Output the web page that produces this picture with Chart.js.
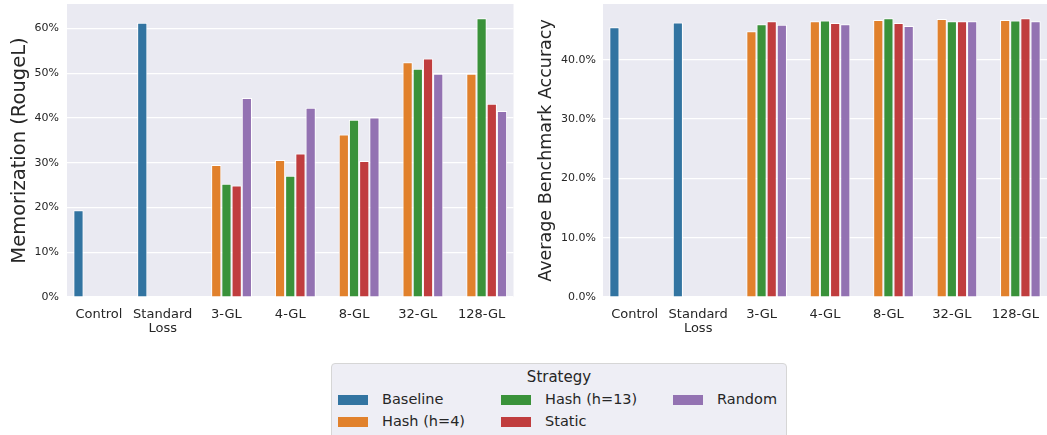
<!DOCTYPE html>
<html>
<head>
<meta charset="utf-8">
<script src="https://cdn.jsdelivr.net/npm/chart.js@4/dist/chart.umd.min.js"></script>
<style>
  body { margin: 0; background: #fff; font-family: 'DejaVu Sans', sans-serif; }
  #wrap { position: relative; width: 1047px; height: 435px; overflow: hidden; }
  .box { position: absolute; }
  #legend {
    position: absolute; left: 331px; top: 363px; width: 454px; height: 90px;
    background: #eeeef5; border: 1px solid #d6d6d6; border-radius: 4px; color: #262626;
  }
  #legend .title { position: absolute; top: 4px; width: 100%; text-align: center; font-size: 15px; }
  .item { position: absolute; font-size: 14.5px; line-height: 18px; white-space: nowrap; }
  .item span.sw { display: inline-block; width: 30px; height: 10px; margin-right: 14px; vertical-align: -1px; }
</style>
</head>
<body>
<div id="wrap">
  <div class="box" style="left:0;top:0;width:520px;height:340px"><canvas id="memChart"></canvas></div>
  <div class="box" style="left:520px;top:0;width:527px;height:340px"><canvas id="accChart"></canvas></div>
  <div id="legend"><div class="title">Strategy</div></div>
</div>
<script>
const categories = ['Control', ['Standard', 'Loss'], '3-GL', '4-GL', '8-GL', '32-GL', '128-GL'];
const strategies = ['Baseline', 'Hash (h=4)', 'Hash (h=13)', 'Static', 'Random'];
const colors = ['#3274a1', '#e1812c', '#3a923a', '#c03d3e', '#9372b2'];

// memorization (RougeL, %)
const memBaseline = [19.4, 61.3, null, null, null, null, null];
const memHash4    = [null, null, 29.5, 30.6, 36.3, 52.5, 49.9];
const memHash13   = [null, null, 25.3, 27.1, 39.6, 51.0, 62.3];
const memStatic   = [null, null, 24.9, 32.1, 30.4, 53.3, 43.2];
const memRandom   = [null, null, 44.5, 42.3, 40.1, 49.9, 41.6];

// average benchmark accuracy (%)
const accBaseline = [45.5, 46.3, null, null, null, null, null];
const accHash4    = [null, null, 44.8, 46.5, 46.7, 46.85, 46.7];
const accHash13   = [null, null, 46.0, 46.6, 47.0, 46.5, 46.6];
const accStatic   = [null, null, 46.5, 46.2, 46.2, 46.5, 47.0];
const accRandom   = [null, null, 45.9, 46.0, 45.7, 46.5, 46.5];

const memTicks = [0, 10, 20, 30, 40, 50, 60];
const accTicks = [0, 10, 20, 30, 40];

const font = 'DejaVu Sans';
const ink = '#262626';

const plotBg = {
  id: 'plotBg',
  beforeDraw(chart) {
    const { ctx, chartArea: a } = chart;
    ctx.save();
    ctx.fillStyle = '#eaeaf2';
    ctx.fillRect(a.left, a.top, a.right - a.left, a.bottom - a.top);
    ctx.restore();
  }
};

function makeChart(id, series, opts) {
  const datasets = series.map((d, i) => ({
    label: strategies[i],
    data: d,
    backgroundColor: colors[i],
    borderColor: '#ffffff',
    borderWidth: 1,
    categoryPercentage: 0.8,
    barPercentage: 1.0
  }));
  return new Chart(document.getElementById(id), {
    type: 'bar',
    data: { labels: categories, datasets },
    plugins: [plotBg],
    options: {
      responsive: true,
      maintainAspectRatio: false,
      animation: false,
      layout: { padding: { top: 4, right: opts.padRight, left: 0, bottom: 0 } },
      plugins: { legend: { display: false }, tooltip: { enabled: false } },
      scales: {
        x: {
          grid: { display: false },
          border: { display: false },
          ticks: { color: ink, font: { family: font, size: 13, lineHeight: 1.12 }, padding: 2, maxRotation: 0, autoSkip: false },
          afterFit: s => { s.height = 43; s.paddingLeft = 0; s.paddingRight = 0; }
        },
        y: {
          min: 0,
          max: opts.max,
          border: { display: false },
          grid: { color: '#ffffff', lineWidth: 1.2, drawTicks: false },
          ticks: {
            color: ink, font: { family: font, size: 11 }, padding: opts.tickPad,
            stepSize: 10,
            callback: opts.fmt
          },
          afterBuildTicks: s => { s.ticks = opts.ticks.map(v => ({ value: v })); },
          title: {
            display: true, text: opts.title, color: ink,
            font: { family: font, size: opts.titleSize }, padding: { top: opts.titlePad, bottom: 0 }
          },
          afterFit: s => { s.width = opts.yWidth; s.paddingTop = 0; s.paddingBottom = 0; }
        }
      }
    }
  });
}

makeChart('memChart', [memBaseline, memHash4, memHash13, memStatic, memRandom], {
  max: 65.5, ticks: memTicks, fmt: v => v + '%',
  title: 'Memorization (RougeL)', titleSize: 19.5, titlePad: 8,
  tickPad: 8, yWidth: 67, padRight: 6.5
});

makeChart('accChart', [accBaseline, accHash4, accHash13, accStatic, accRandom], {
  max: 49.4, ticks: accTicks, fmt: v => v.toFixed(1) + '%',
  title: 'Average Benchmark Accuracy', titleSize: 17.5, titlePad: 16,
  tickPad: 7, yWidth: 83, padRight: 0
});

// legend (matplotlib column order)
const legend = document.getElementById('legend');
const slots = [[6, 26], [6, 48], [169, 26], [169, 48], [341, 26]];
strategies.forEach((name, i) => {
  const el = document.createElement('div');
  el.className = 'item';
  el.style.left = slots[i][0] + 'px';
  el.style.top = slots[i][1] + 'px';
  el.innerHTML = '<span class="sw" style="background:' + colors[i] + '"></span>' + name;
  legend.appendChild(el);
});
</script>
</body>
</html>
